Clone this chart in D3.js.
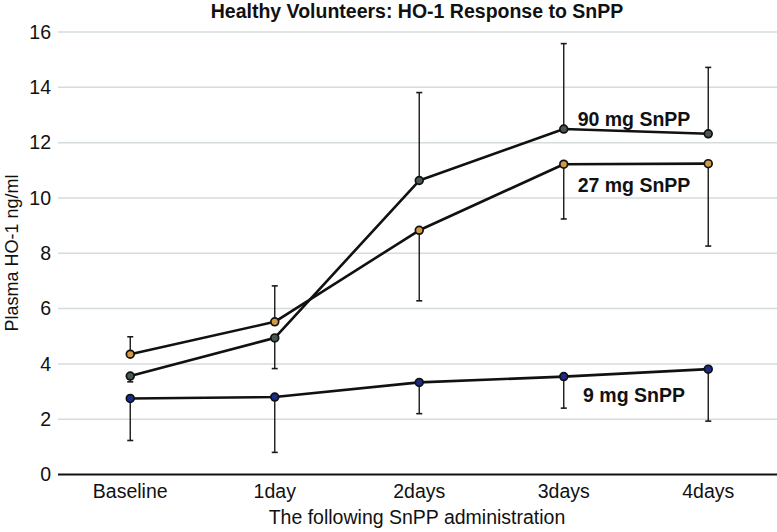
<!DOCTYPE html>
<html>
<head>
<meta charset="utf-8">
<script src="https://cdn.jsdelivr.net/npm/d3@7"></script>
<style>
  html, body { margin: 0; padding: 0; background: #fff; }
  svg { display: block; }
  text { font-family: "Liberation Sans", Arial, Helvetica, sans-serif; }
</style>
</head>
<body>
<svg id="chart" width="777" height="532"></svg>
<script>
const categories = ["Baseline", "1day", "2days", "3days", "4days"];
const yTicks = [0, 2, 4, 6, 8, 10, 12, 14, 16];

const seriesNames = ["90 mg SnPP", "27 mg SnPP", "9 mg SnPP"];
const mg90 = [3.56, 4.94, 10.63, 12.49, 12.32];
const mg27 = [4.35, 5.52, 8.83, 11.22, 11.24];
const mg9  = [2.75, 2.80, 3.33, 3.54, 3.81];

// error bar end values (one-sided bars)
const mg90Err = [3.35, 3.83, 13.81, 15.58, 14.72];
const mg27Err = [4.98, 6.82, 6.28, 9.24, 8.26];
const mg9Err  = [1.23, 0.80, 2.20, 2.40, 1.93];

const fills = ["#4b5752", "#d29a45", "#1b2b86"];

const svg = d3.select("#chart");
const x = d3.scaleBand().domain(categories).range([58, 780.5]);
const y = d3.scaleLinear().domain([0, 16]).range([474.5, 32]);
const cx = c => x(c) + x.bandwidth() / 2;

// gridlines
svg.append("g").selectAll("line").data(yTicks.filter(d => d > 0)).join("line")
  .attr("x1", 58).attr("x2", 777)
  .attr("y1", d => y(d)).attr("y2", d => y(d))
  .attr("stroke", "#d4dcdc").attr("stroke-width", 1.5);

// y axis labels
const yAxis = d3.axisLeft(y).tickValues(yTicks).tickSize(0).tickPadding(7);
const gy = svg.append("g").attr("transform", "translate(58,0)").call(yAxis);
gy.select(".domain").remove();
gy.selectAll("text").attr("font-size", 19.5).attr("fill", "#111")
  .attr("font-family", "Liberation Sans, Arial, sans-serif");

// x axis
const xAxis = d3.axisBottom(x).tickSize(0).tickPadding(10);
const gx = svg.append("g").attr("transform", `translate(0,${y(0)})`).call(xAxis);
gx.select(".domain").remove();
gx.selectAll("text").attr("font-size", 19.5).attr("fill", "#111")
  .attr("font-family", "Liberation Sans, Arial, sans-serif");
svg.append("line").attr("x1", 58).attr("x2", 777)
  .attr("y1", y(0)).attr("y2", y(0)).attr("stroke", "#111").attr("stroke-width", 2);

// titles
svg.append("text").attr("x", 417).attr("y", 18).attr("text-anchor", "middle")
  .attr("font-size", 19.5).attr("font-weight", "bold").attr("fill", "#111")
  .text("Healthy Volunteers: HO-1 Response to SnPP");
svg.append("text").attr("x", 417).attr("y", 524).attr("text-anchor", "middle")
  .attr("font-size", 19.5).attr("fill", "#111")
  .text("The following SnPP administration");
svg.append("text").attr("transform", "translate(18,253) rotate(-90)")
  .attr("text-anchor", "middle").attr("font-size", 18).attr("fill", "#111")
  .text("Plasma HO-1 ng/ml");

const series = [
  { name: seriesNames[0], vals: mg90, err: mg90Err, fill: fills[0] },
  { name: seriesNames[1], vals: mg27, err: mg27Err, fill: fills[1] },
  { name: seriesNames[2], vals: mg9, err: mg9Err, fill: fills[2] }
];

// error bars
series.forEach(s => {
  const g = svg.append("g");
  categories.forEach((c, i) => {
    const xx = cx(c);
    g.append("line").attr("x1", xx).attr("x2", xx)
      .attr("y1", y(s.vals[i])).attr("y2", y(s.err[i]))
      .attr("stroke", "#1a1a1a").attr("stroke-width", 1.4);
    g.append("line").attr("x1", xx - 3).attr("x2", xx + 3)
      .attr("y1", y(s.err[i])).attr("y2", y(s.err[i]))
      .attr("stroke", "#1a1a1a").attr("stroke-width", 1.6);
  });
});

// lines
const line = d3.line().x((d, i) => cx(categories[i])).y(d => y(d));
series.forEach(s => {
  svg.append("path").datum(s.vals).attr("d", line)
    .attr("fill", "none").attr("stroke", "#111").attr("stroke-width", 2.6)
    .attr("stroke-linejoin", "round");
});

// markers
series.forEach(s => {
  svg.append("g").selectAll("circle").data(s.vals).join("circle")
    .attr("cx", (d, i) => cx(categories[i])).attr("cy", d => y(d))
    .attr("r", 3.9).attr("fill", s.fill)
    .attr("stroke", "#111").attr("stroke-width", 1.7);
});

// series labels
const labelPos = [[634, 126], [634, 192], [634, 402]];
series.forEach((s, i) => {
  svg.append("text").attr("x", labelPos[i][0]).attr("y", labelPos[i][1])
    .attr("text-anchor", "middle").attr("font-size", 19.5).attr("font-weight", "bold")
    .attr("fill", "#111").text(s.name);
});
</script>
</body>
</html>
